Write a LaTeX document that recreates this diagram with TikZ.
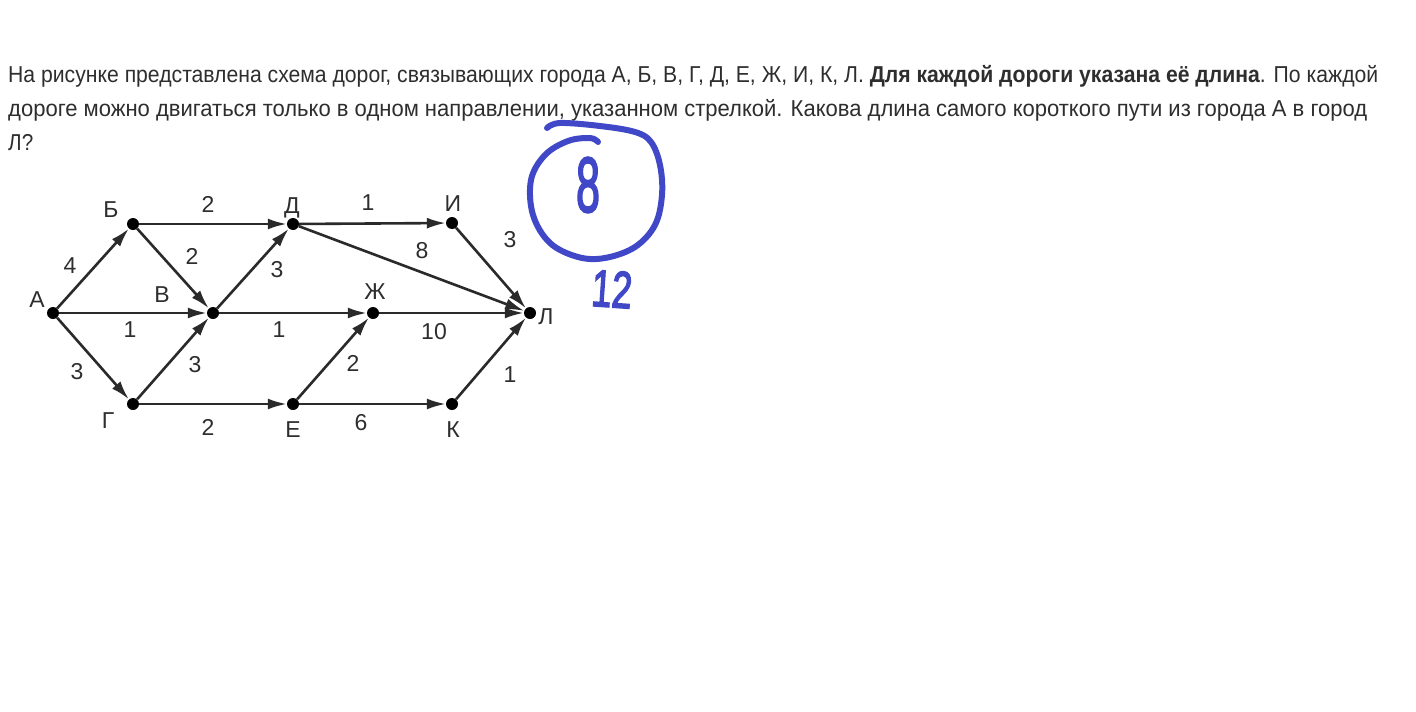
\documentclass[tikz,border=0pt]{standalone}
\usepackage{fontspec}
\setmainfont{Liberation Sans}
\newfontfamily\handfont[FakeBold=3]{Liberation Sans}
\usetikzlibrary{arrows.meta}
\definecolor{txt}{HTML}{2E2E2E}
\definecolor{edgec}{HTML}{2A2A2A}
\definecolor{pen}{RGB}{64,72,200}
\begin{document}
\begin{tikzpicture}[x=1pt,y=-1pt,
  dot/.style={circle,fill=black,inner sep=0pt,minimum size=12pt},
  road/.style={draw=edgec,line width=2.6pt,-{Latex[length=19pt,width=11pt]}},
  lab/.style={font=\fontsize{23}{23}\selectfont,text=txt,inner sep=0pt},
  para/.style={anchor=base west,inner sep=0pt,text=txt,font=\fontsize{23}{23}\selectfont},
  ink/.style={draw=pen,line width=6pt,line cap=round,line join=round},
  inktext/.style={text=pen,inner sep=0pt}]
\useasboundingbox (0,0) rectangle (1416,712);
\fill[white] (0,0) rectangle (1416,712);

% question text
\node[para] (t1) at (8,82) {\resizebox{1370pt}{\height}{На рисунке представлена схема дорог, связывающих города А, Б, В, Г, Д, Е, Ж, И, К, Л. \textbf{Для каждой дороги указана её длина}. По каждой}};
\node[para] (t2) at (8,116) {\resizebox{1359pt}{\height}{дороге можно двигаться только в одном направлении, указанном стрелкой. Какова длина самого короткого пути из города А в город}};
\node[para] (t3) at (8,150) {\scalebox{0.9}[1]{Л?}};

% graph vertices
\node[dot] (A) at (53,313) {};
\node[dot] (B) at (133,224) {};
\node[dot] (V) at (213,313) {};
\node[dot] (G) at (133,404) {};
\node[dot] (D) at (293,224) {};
\node[dot] (Zh) at (373,313) {};
\node[dot] (E) at (293,404) {};
\node[dot] (I) at (452,223) {};
\node[dot] (K) at (452,404) {};
\node[dot] (L) at (530,313) {};

% roads
\draw[road] (A) -- (B);
\draw[road] (A) -- (V);
\draw[road] (A) -- (G);
\draw[road] (B) -- (D);
\draw[road] (B) -- (V);
\draw[road] (G) -- (V);
\draw[road] (G) -- (E);
\draw[road] (V) -- (D);
\draw[road] (V) -- (Zh);
\draw[road] (E) -- (Zh);
\draw[road] (E) -- (K);
\draw[road] (D) -- (I);
\draw[road] (D) -- (L);
\draw[road] (I) -- (L);
\draw[road] (Zh) -- (L);
\draw[road] (K) -- (L);

% city names
\node[lab] (nA) at (37,300) {А};
\node[lab] (nB) at (111,210) {Б};
\node[lab] (nV) at (162,295) {В};
\node[lab] (nG) at (108,421) {Г};
\node[lab] (nD) at (292,208) {Д};
\node[lab] (nE) at (293,430) {Е};
\node[lab] (nZh) at (375,292) {Ж};
\node[lab] (nI) at (453,204) {И};
\node[lab] (nK) at (453,430) {К};
\node[lab] (nL) at (546,317) {Л};

% lengths
\node[lab] (w1) at (70,266) {4};
\node[lab] (w2) at (208,204) {2};
\node[lab] (w3) at (192,256) {2};
\node[lab] (w4) at (130,330) {1};
\node[lab] (w5) at (77,372) {3};
\node[lab] (w6) at (195,365) {3};
\node[lab] (w7) at (277,270) {3};
\node[lab] (w8) at (279,330) {1};
\node[lab] (w9) at (208,427) {2};
\node[lab] (w10) at (368,203) {1};
\node[lab] (w11) at (422,251) {8};
\node[lab] (w12) at (510,240) {3};
\node[lab] (w13) at (434,332) {10};
\node[lab] (w14) at (353,363) {2};
\node[lab] (w15) at (510,375) {1};
\node[lab] (w16) at (361,423) {6};

% handwritten marks
\draw[ink] plot[smooth,tension=0.6] coordinates {(547,128) (560,123) (600,126) (635,132) (651,142) (660,165) (662,195) (655,225) (635,247) (605,258) (578,257) (550,243) (533,215) (531,180) (545,155) (568,141) (590,138) (598,142)};
\node[inktext,font=\handfont\fontsize{78}{78}\selectfont] (h8) at (588,185) {\scalebox{0.55}[1]{8}};
\node[inktext,font=\handfont\fontsize{52}{52}\selectfont,rotate=-4] (h12) at (612,289) {\scalebox{0.7}[1]{12}};
\end{tikzpicture}
\end{document}
